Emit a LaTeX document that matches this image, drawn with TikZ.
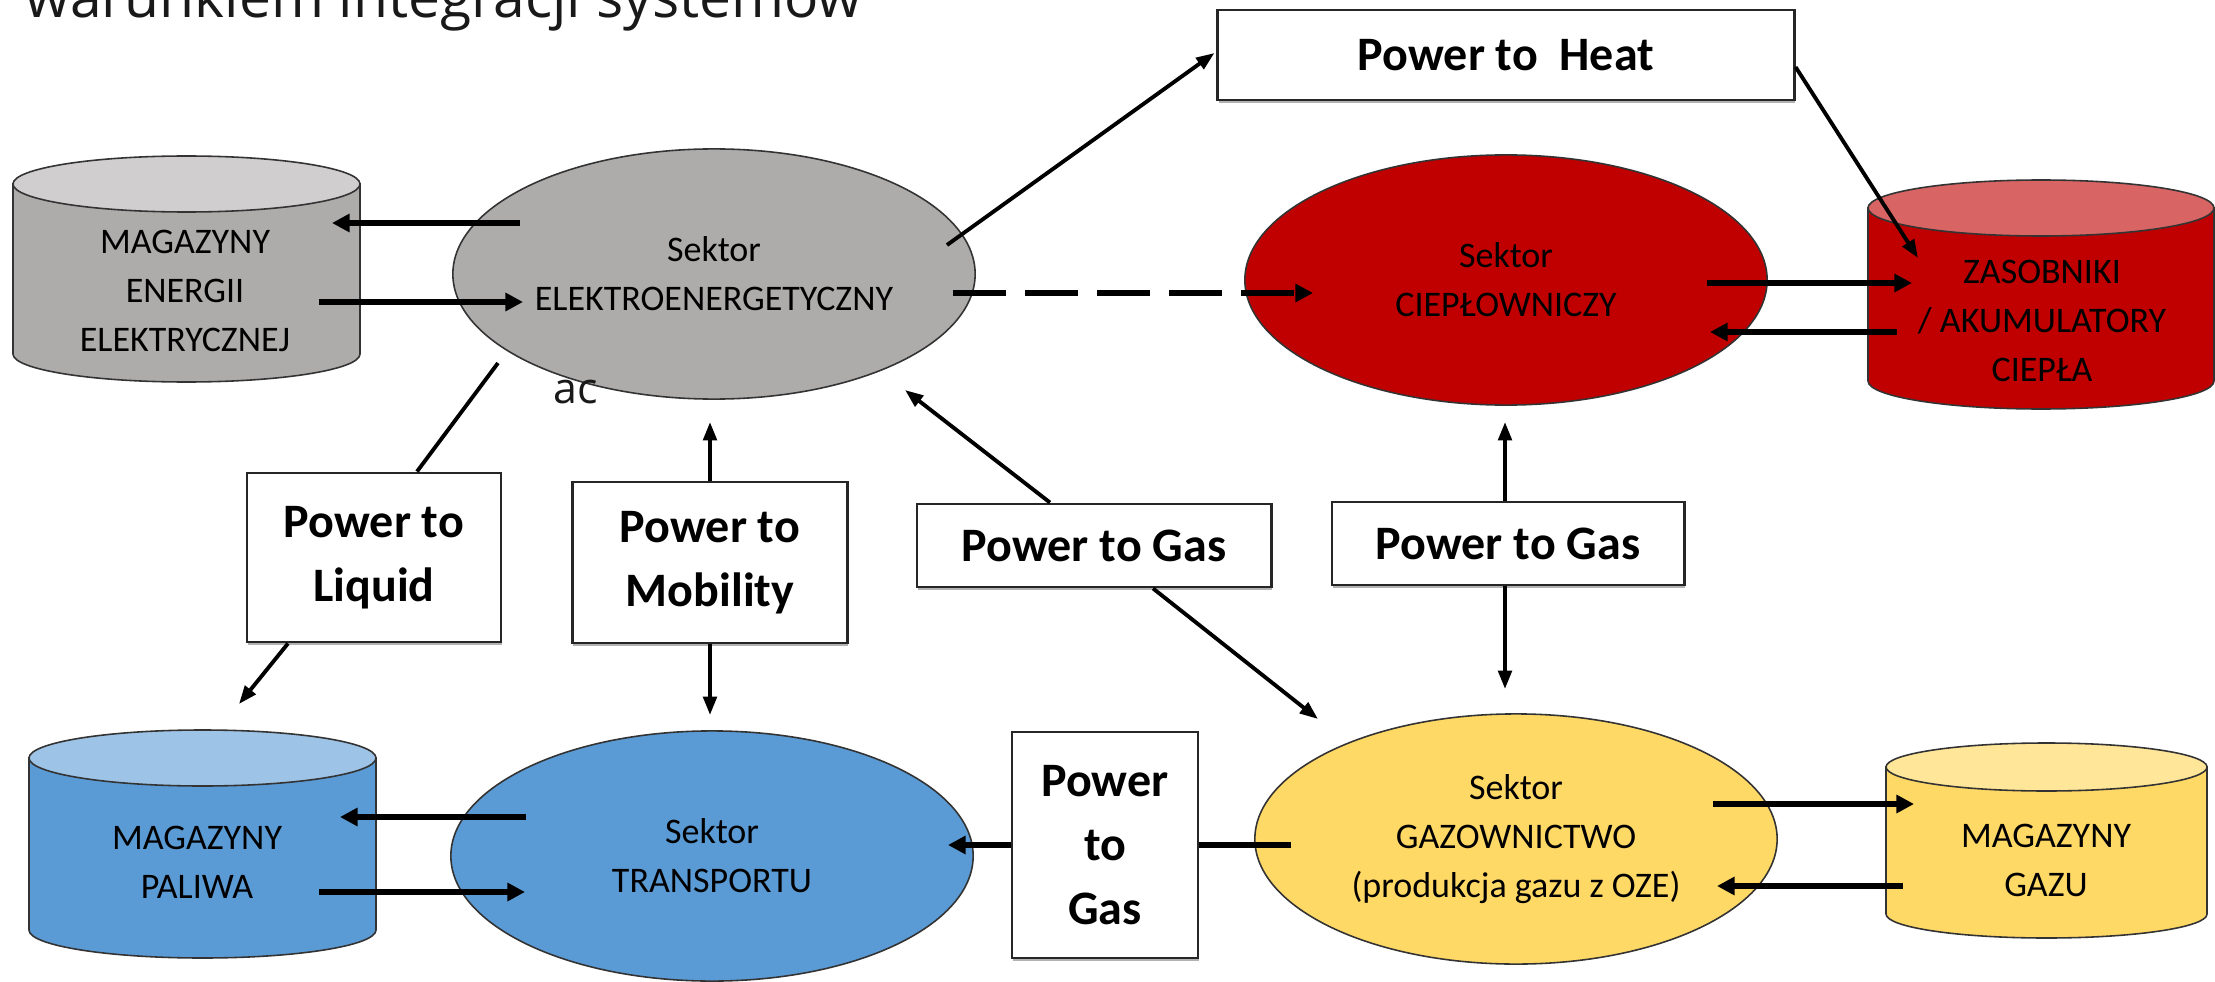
\documentclass[tikz,border=0pt]{standalone}
\usepackage{fontspec}
\setmainfont{Carlito}
\newfontfamily\titlefont{Open Sans}
\usetikzlibrary{arrows.meta,calc,shapes.geometric,shadows}
\definecolor{greybody}{HTML}{AEABAB}
\definecolor{greytop}{HTML}{D0CECE}
\definecolor{redbody}{HTML}{C00000}
\definecolor{redtop}{HTML}{D86464}
\definecolor{bluebody}{HTML}{5B9BD5}
\definecolor{bluetop}{HTML}{9DC3E6}
\definecolor{yellowbody}{HTML}{FFD966}
\definecolor{yellowtop}{HTML}{FFE699}
\definecolor{outline}{HTML}{333333}
\newcommand\mysectorfont{\fontsize{10.24pt}{13.94pt}\selectfont}
\newcommand\myboxfont{\bfseries\fontsize{13.66pt}{18.1pt}\selectfont}
\newcommand\mycyl[7]{%
  \pgfmathsetmacro\cxc{(#1+#2)/2}\pgfmathsetmacro\crx{(#2-#1)/2}%
  \draw[cylline, fill=#6] (#1,#3) -- (#1,#4) arc[start angle=180,end angle=0,x radius=\crx,y radius=#5] -- (#2,#3) -- cycle;
  \draw[cylline, fill=#7] (\cxc,#3) ellipse[x radius=\crx, y radius=#5];}
\begin{document}
\begin{tikzpicture}[x=0.01cm,y=-0.01cm,
  cylline/.style={draw=outline, line width=0.45pt},
  sector/.style={ellipse, draw=outline, line width=0.45pt, inner sep=0pt, align=center, font=\mysectorfont, minimum width=5.22cm, minimum height=2.5cm},
  boxnode/.style={draw=black!85, line width=0.8pt, fill=white, inner sep=0pt, align=center, font=\myboxfont,
    drop shadow={shadow xshift=0.2pt, shadow yshift=-0.9pt, opacity=0.3, fill=black}},
  cyltext/.style={align=center, font=\mysectorfont, inner sep=0pt},
  thickarr/.style={line width=1.55pt, -{Triangle[length=5pt,width=5pt]}},
  thickline/.style={line width=1.55pt},
  thinarr/.style={line width=1.1pt, -{Triangle[length=5.2pt,width=3.8pt]}},
  thinline/.style={line width=1.1pt},
  dasharr/.style={line width=1.55pt, dash pattern=on 15pt off 5.5pt, -{Triangle[length=5pt,width=5pt]}}
]
\useasboundingbox (0,0) rectangle (2215,982);
\fill[white] (0,0) rectangle (2215,982);

% title fragment
\node[anchor=base west, inner sep=0pt, font=\titlefont\fontsize{16.2pt}{19pt}\selectfont, text=black!90] (title) at (25,18) {warunkiem integracji systemów};

% cylinders
\mycyl{13}{360}{184}{354}{28}{greybody}{greytop}
\mycyl{1868}{2214}{208}{381}{28}{redbody}{redtop}
\mycyl{29}{376}{758}{930}{28}{bluebody}{bluetop}
\mycyl{1886}{2207}{767}{914}{24}{yellowbody}{yellowtop}
\node[cyltext] (gCt) at (185,291) {MAGAZYNY\\ENERGII\\ELEKTRYCZNEJ};
\node[cyltext] (rCt) at (2042,321) {ZASOBNIKI\\/ AKUMULATORY\\CIEPŁA};
\node[cyltext] (bCt) at (197,862) {MAGAZYNY\\PALIWA};
\node[cyltext] (yCt) at (2046,860) {MAGAZYNY\\GAZU};

% sectors
\node[sector, fill=greybody] (gE) at (714,274) {Sektor\\ELEKTROENERGETYCZNY};
\node[sector, fill=redbody] (rE) at (1506,280) {Sektor\\CIEPŁOWNICZY};
\node[sector, fill=bluebody] (bE) at (712,856) {Sektor\\TRANSPORTU};
\node[sector, fill=yellowbody] (yE) at (1516,839) {Sektor\\GAZOWNICTWO\\(produkcja gazu z OZE)};

\node[anchor=base west, inner sep=0pt, font=\titlefont\fontsize{12.2pt}{14pt}\selectfont, text=black!90] (ac) at (553,403) {ac};

% boxes
\node[boxnode, minimum width=5.76cm, minimum height=0.9cm] (heat) at (1506,55) {Power to~ Heat};
\node[boxnode, minimum width=2.54cm, minimum height=1.69cm] (liq) at (374,557.5) {Power to\\Liquid};
\node[boxnode, minimum width=2.75cm, minimum height=1.61cm] (mob) at (710,562.5) {Power to\\Mobility};
\node[boxnode, minimum width=3.54cm, minimum height=0.83cm] (gasm) at (1094,545.5) {Power to Gas};
\node[boxnode, minimum width=3.52cm, minimum height=0.83cm] (gasr) at (1508,543.5) {Power to Gas};
\node[boxnode, minimum width=1.86cm, minimum height=2.26cm] (gasb) at (1105,845) {Power\\to\\Gas};

% connectors: electricity sector
\draw[thickarr] ($(gE)+(-194,-51)$) -- ($(gCt)+(147,-68)$);
\draw[thickarr] ($(gCt)+(134,11)$) -- ($(gE)+(-191,28)$);
\draw[thinarr] ($(gE)+(233,-29)$) -- ($(heat.west)+(-2,-2)$);
\draw[thinarr] ($(heat.east)+(0,12)$) -- ($(rCt)+(-124,-63)$);
\draw[dasharr] ($(gE)+(239,19)$) -- ($(rE)+(-193,13)$);
% heat sector
\draw[thickarr] ($(rE)+(201,3)$) -- ($(rCt)+(-130,-38)$);
\draw[thickarr] ($(rCt)+(-145,11)$) -- ($(rE)+(204,52)$);
% power to liquid
\draw[thinline] ($(gE)+(-216,89)$) -- ($(liq.north)+(43,0)$);
\draw[thinarr] ($(liq.south)+(-86,0)$) -- ($(bCt)+(42,-158)$);
% power to mobility
\draw[thinarr] (mob.north) -- ($(gE)+(-4,148)$);
\draw[thinarr] (mob.south) -- ($(bE)+(-2,-141)$);
% power to gas (middle)
\draw[thinarr] ($(gasm.north)+(-44,0)$) -- ($(gE)+(191,116)$);
\draw[thinarr] ($(gasm.south)+(59,0)$) -- ($(yE)+(-198,-120)$);
% power to gas (right)
\draw[thinarr] ($(gasr.north)+(-3,0)$) -- ($(rE)+(-1,142)$);
\draw[thinarr] ($(gasr.south)+(-3,0)$) -- ($(yE)+(-11,-150)$);
% power to gas (bottom)
\draw[thickline] ($(yE)+(-225,6)$) -- (gasb.east);
\draw[thickarr] (gasb.west) -- ($(bE)+(236,-11)$);
% transport sector
\draw[thickarr] ($(bE)+(-186,-39)$) -- ($(bCt)+(143,-45)$);
\draw[thickarr] ($(bCt)+(122,30)$) -- ($(bE)+(-187,36)$);
% gas sector
\draw[thickarr] ($(yE)+(197,-35)$) -- ($(yCt)+(-132,-56)$);
\draw[thickarr] ($(yCt)+(-143,26)$) -- ($(yE)+(201,47)$);
\end{tikzpicture}
\end{document}
